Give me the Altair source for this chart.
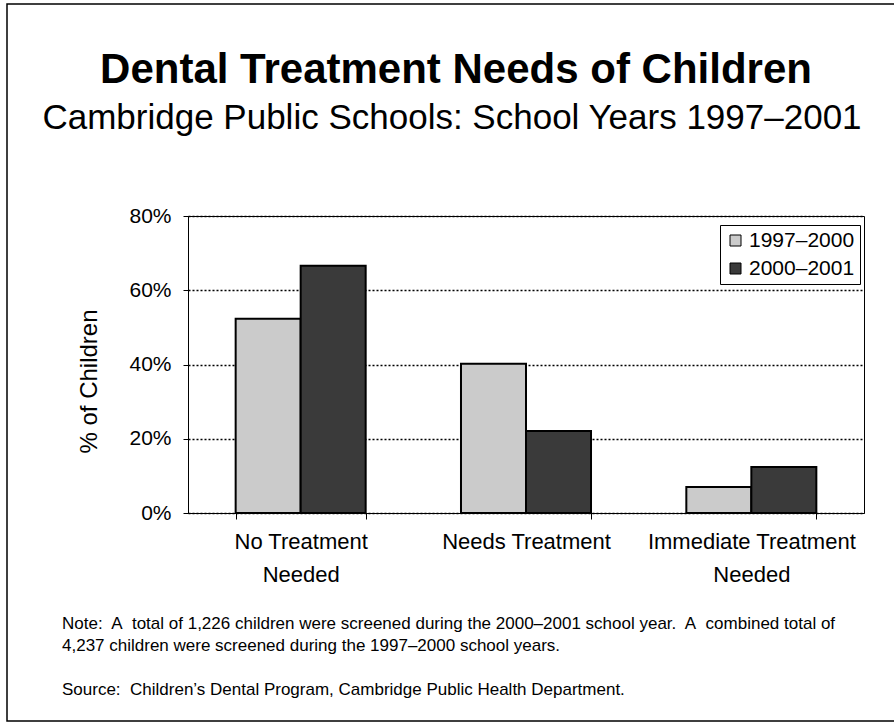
import altair as alt
import pandas as pd

# ---- data ----
categories = ["No Treatment Needed", "Needs Treatment", "Immediate Treatment Needed"]
category_lines = [["No Treatment", "Needed"], ["Needs Treatment"], ["Immediate Treatment", "Needed"]]
periods = ["1997–2000", "2000–2001"]
pct_1997_2000 = [52.3, 40.2, 7.0]
pct_2000_2001 = [66.6, 22.1, 12.4]
y_ticks = [0, 20, 40, 60, 80]

title_text = "Dental Treatment Needs of Children"
subtitle_text = "Cambridge Public Schools: School Years 1997–2001"
note_lines = [
    "Note:\u00a0 A\u00a0 total of 1,226 children were screened during the 2000–2001 school year.\u00a0 A\u00a0 combined total of",
    "4,237 children were screened during the 1997–2000 school years.",
]
source_text = "Source:\u00a0 Children’s Dental Program, Cambridge Public Health Department."

rows = []
for c, a, b in zip(categories, pct_1997_2000, pct_2000_2001):
    rows.append({"category": c, "period": periods[0], "pct": a})
    rows.append({"category": c, "period": periods[1], "pct": b})
df = pd.DataFrame(rows)

FONT = "Liberation Sans"
W, H = 676, 297
PAD_L, PAD_T = 188, 216

# label expression for multi-line category labels
expr_parts = []
for c, lines in zip(categories, category_lines):
    arr = "[" + ",".join("'" + s + "'" for s in lines) + "]"
    expr_parts.append(f"datum.label == '{c}' ? {arr} : ")
label_expr = "".join(expr_parts) + "datum.label"

bars = alt.Chart(df).mark_bar(stroke="black", strokeWidth=2).encode(
    x=alt.X(
        "category:N",
        sort=categories,
        scale=alt.Scale(paddingInner=0.423, paddingOuter=0.2115),
        axis=alt.Axis(
            title=None,
            labelAngle=0,
            labelExpr=label_expr,
            labelFont=FONT,
            labelFontSize=22,
            labelColor="black",
            labelLineHeight=33,
            labelPadding=12,
            labelLimit=400,
            tickBand="extent",
            tickSize=6,
            tickColor="black",
            domainColor="black",
            grid=False,
        ),
    ),
    xOffset=alt.XOffset("period:N", sort=periods, scale=alt.Scale(paddingInner=0, paddingOuter=0)),
    y=alt.Y(
        "pct:Q",
        scale=alt.Scale(domain=[0, 80], nice=False),
        axis=alt.Axis(
            values=y_ticks,
            labelExpr="datum.value + '%'",
            labelFont=FONT,
            labelFontSize=21,
            labelColor="black",
            labelPadding=12,
            tickSize=5,
            tickColor="black",
            domainColor="black",
            grid=True,
            gridColor="black",
            gridDash=[2, 2],
            gridWidth=1.5,
            title="% of Children",
            titleFont=FONT,
            titleFontSize=24,
            titleFontWeight="normal",
            titleColor="black",
            titleAngle=270,
            titleAlign="center",
            titleBaseline="middle",
            titleX=89 - PAD_L,
            titleY=381 - PAD_T,
        ),
    ),
    color=alt.Color(
        "period:N",
        sort=periods,
        scale=alt.Scale(domain=periods, range=["#cbcbcb", "#3a3a3a"]),
        legend=alt.Legend(
            title=None,
            orient="none",
            legendX=720 - PAD_L,
            legendY=225 - PAD_T,
            strokeColor="black",
            fillColor="white",
            padding=5,
            labelFont=FONT,
            labelFontSize=21,
            labelColor="black",
            labelOffset=3,
            symbolType="square",
            symbolSize=121,
            symbolStrokeColor="black",
            symbolStrokeWidth=1,
            rowPadding=6,
        ),
    ),
)

one = alt.Data(values=[{}])

# page frame: left, top and bottom edges (the right edge lies off the page)
frame = alt.Chart(one).mark_rect(fill=None, stroke="black", strokeWidth=1.5).encode(
    x=alt.value(7 - PAD_L), x2=alt.value(1100 - PAD_L),
    y=alt.value(4 - PAD_T), y2=alt.value(721 - PAD_T),
)

title = alt.Chart(one).mark_text(
    text=title_text, font=FONT, fontSize=42, fontWeight="bold", color="black",
    align="center", baseline="alphabetic",
).encode(x=alt.value(456 - PAD_L), y=alt.value(83 - PAD_T))

subtitle = alt.Chart(one).mark_text(
    text=subtitle_text, font=FONT, fontSize=35, color="black",
    align="center", baseline="alphabetic",
).encode(x=alt.value(452 - PAD_L), y=alt.value(129 - PAD_T))

note = alt.Chart(one).mark_text(
    text=note_lines, font=FONT, fontSize=17, color="black",
    align="left", baseline="alphabetic", lineHeight=22,
).encode(x=alt.value(62 - PAD_L), y=alt.value(629 - PAD_T))

source = alt.Chart(one).mark_text(
    text=source_text, font=FONT, fontSize=17, color="black",
    align="left", baseline="alphabetic",
).encode(x=alt.value(62 - PAD_L), y=alt.value(695 - PAD_T))

chart = alt.layer(frame, bars, title, subtitle, note, source).properties(
    width=W,
    height=H,
    autosize=alt.AutoSizeParams(type="none"),
    padding={"left": PAD_L, "top": PAD_T, "right": 894 - PAD_L - W, "bottom": 723 - PAD_T - H},
    background="white",
).configure_view(stroke="black", strokeWidth=1)

chart.save("out.html", embed_options={"renderer": "svg", "actions": False})
